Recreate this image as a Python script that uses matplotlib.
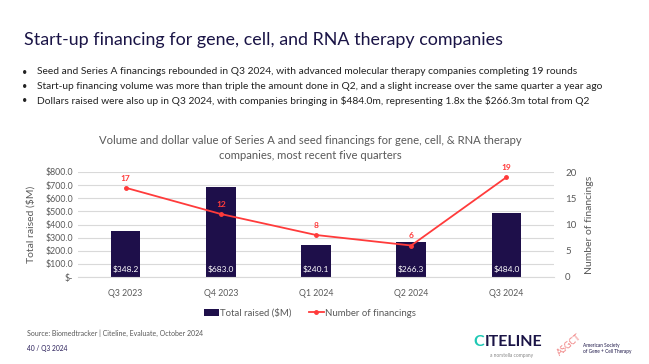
import matplotlib
matplotlib.use("Agg")
import matplotlib.pyplot as plt
import numpy as np

plt.rcParams['font.family'] = ['Lato', 'DejaVu Sans']

quarters = ["Q3 2023", "Q4 2023", "Q1 2024", "Q2 2024", "Q3 2024"]
total_raised = [348.2, 683.0, 240.1, 266.3, 484.0]
num_financings = [17, 12, 8, 6, 19]
bullets = [
    "Seed and Series A financings rebounded in Q3 2024, with advanced molecular therapy companies completing 19 rounds",
    "Start-up financing volume was more than triple the amount done in Q2, and a slight increase over the same quarter a year ago",
    "Dollars raised were also up in Q3 2024, with companies bringing in \\$484.0m, representing 1.8x the \\$266.3m total from Q2",
]

W, H = 649, 364
fig = plt.figure(figsize=(W / 100, H / 100), dpi=100)
navy = "#1e0f4a"
red = "#ff3b3b"
gray = "#595959"

def px(x, y):
    return x / W, 1 - y / H

# slide title and bullets
fig.text(*px(24, 40), "Start-up financing for gene, cell, and RNA therapy companies",
         fontsize=12.9, color="#1a1446", va="center")
for i, b in enumerate(bullets):
    fig.text(*px(22, 72 + i * 14.5), "\u2022", fontsize=6.5, color="#222222", va="center")
    fig.text(*px(37, 72 + i * 14.5), b, fontsize=7.4, color="#222222", va="center")

# chart title
fig.text(*px(310, 140), "Volume and dollar value of Series A and seed financings for gene, cell, & RNA therapy",
         fontsize=8.1, color=gray, ha="center", va="center")
fig.text(*px(310, 155), "companies, most recent five quarters",
         fontsize=8.1, color=gray, ha="center", va="center")

l, b = px(78, 277)
ax = fig.add_axes([l, b, (554 - 78) / W, (277 - 172) / H])
x = np.arange(len(quarters))
ax.bar(x, total_raised, width=0.31, color=navy, zorder=2, label="Total raised ($M)")
for xi, v in zip(x, total_raised):
    ax.annotate(f"${v:.1f}", (xi, 0), xytext=(0, 5.5), textcoords="offset points",
                ha="center", va="center", color="white", fontsize=6)
ax.set_xlim(-0.5, 4.5)
ax.set_ylim(0, 800)
ax.set_yticks(np.arange(0, 801, 100))
ax.set_yticklabels(["$-"] + [f"${v:.1f}" for v in range(100, 801, 100)])
ax.grid(axis="y", color="#d9d9d9", linewidth=0.8, zorder=0)
ax.set_xticks(x)
ax.set_xticklabels(quarters)
ax.tick_params(axis="both", length=0, labelsize=6.3, colors=gray)
ax.tick_params(axis="x", pad=9)
for s in ax.spines.values():
    s.set_visible(False)
ax.spines["bottom"].set_visible(True)
ax.spines["bottom"].set_color("#d9d9d9")
ax.set_ylabel("Total raised ($M)", fontsize=7.5, color=gray, labelpad=7)

ax2 = ax.twinx()
ax2.plot(x, num_financings, color=red, linewidth=1.3, marker="o", markersize=2.5,
         label="Number of financings")
for xi, v in zip(x, num_financings):
    ax2.annotate(str(v), (xi, v), xytext=(0, 7), textcoords="offset points",
                 ha="center", va="center", color=red, fontsize=6, fontweight="bold")
ax2.set_ylim(0, 20)
ax2.set_yticks([0, 5, 10, 15, 20])
ax2.tick_params(axis="y", length=0, labelsize=7, colors=gray, pad=8)
for s in ax2.spines.values():
    s.set_visible(False)
ax2.set_ylabel("Number of financings", fontsize=7.5, color=gray, labelpad=6)

h1, l1 = ax.get_legend_handles_labels()
h2, l2 = ax2.get_legend_handles_labels()
fig.legend(h1 + h2, l1 + l2, loc="center", bbox_to_anchor=px(310, 313), ncol=2,
           frameon=False, fontsize=6.9, labelcolor=gray, handlelength=1.6,
           handletextpad=0.1, columnspacing=1.8)

fig.text(*px(27, 333), "Source: Biomedtracker | Citeline, Evaluate, October 2024",
         fontsize=5, color=gray, va="center")
fig.text(*px(27, 348), "40 / Q3 2024", fontsize=4.8, color="#2a1f5a", va="center")

# logos as text
fig.text(*px(473, 342), "C", fontsize=11.5, color="#1ec8b4", va="center", fontweight="bold")
fig.text(*px(485, 342), "ITELINE", fontsize=11.5, color="#1a1446", va="center",
         fontweight="bold")
fig.text(*px(512, 356), "a norstella company", fontsize=3.5, color="#888888",
         ha="center", va="center")
fig.text(*px(569, 345), "ASGCT", fontsize=6.5, color="#f08080", va="center", rotation=40,
         ha="center")
fig.text(*px(583, 346), "American Society", fontsize=3.4, color="#1a1446", va="center")
fig.text(*px(583, 352), "of Gene + Cell Therapy", fontsize=3.4, color="#1a1446", va="center")

fig.savefig("out.png", dpi=100, facecolor="white")
